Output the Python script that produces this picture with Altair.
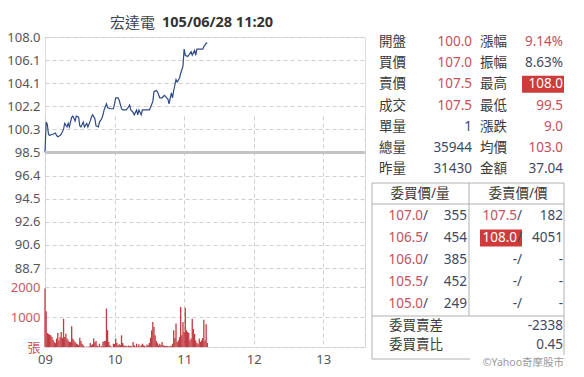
import altair as alt
import pandas as pd

# ---------------- data ----------------
title_name = "宏達電"
title_time = "105/06/28 11:20"

minutes = [0, 1, 2, 3, 4, 6, 7, 9, 10, 11, 13, 14, 16, 17, 19, 20, 21, 23, 24, 26,
           27, 29, 30, 31, 33, 34, 36, 37, 39, 40, 41, 43, 44, 46, 47, 49, 50, 51, 53, 54,
           56, 57, 59, 60, 61, 63, 64, 66, 67, 69, 70, 71, 73, 74, 76, 77, 79, 80, 81, 83,
           84, 86, 88, 90, 91, 93, 94, 96, 97, 99, 100, 101, 103, 104, 106, 107, 109, 110, 111, 113,
           114, 116, 117, 119, 120, 121, 123, 124, 126, 127, 129, 130, 131, 133, 134, 136, 137, 139, 140]
prices = [98.5, 101.0, 100.8, 100.0, 99.9, 100.0, 100.0, 100.1, 99.9, 99.8, 99.9, 100.0, 100.4, 100.9, 100.6, 100.9, 100.6, 101.4, 101.5, 101.1,
          101.5, 101.4, 100.7, 100.6, 101.0, 100.6, 100.9, 100.6, 101.1, 101.4, 101.6, 101.3, 100.7, 100.6, 101.0, 101.3, 101.6, 102.0, 102.5, 102.2,
          102.1, 102.1, 102.1, 102.5, 103.0, 103.0, 102.8, 102.1, 102.0, 102.0, 102.0, 102.1, 102.4, 102.0, 101.8, 101.6, 102.0, 101.6, 102.0, 101.6,
          102.0, 102.0, 102.0, 102.0, 102.2, 102.7, 103.5, 103.6, 103.5, 103.0, 103.0, 103.0, 103.2, 103.1, 102.9, 102.5, 103.4, 103.0, 103.6, 104.5,
          104.3, 104.6, 105.0, 105.6, 107.0, 106.5, 106.4, 106.5, 106.8, 106.5, 106.9, 106.5, 107.0, 107.0, 107.0, 107.0, 107.2, 107.5, 107.5]
ref_price = 98.5

volumes = [1950, 1190, 470, 440, 410, 390, 330, 240, 170, 130,
           280, 470, 220, 330, 500, 300, 940, 330, 440, 280,
           220, 170, 170, 690, 280, 220, 170, 120, 90, 60,
           310, 200, 110, 55, 20, 0, 20, 0, 20, 130,
           60, 90, 280, 150, 200, 55, 20, 110, 20, 30,
           170, 200, 200, 1280, 560, 170, 55, 20, 0, 110,
           100, 280, 130, 55, 90, 60, 390, 130, 55, 30,
           40, 20, 50, 30, 40, 20, 170, 55, 20, 110,
           20, 90, 20, 55, 110, 55, 40, 20, 80, 60,
           130, 310, 560, 830, 670, 390, 200, 130, 55, 110,
           60, 170, 55, 40, 30, 40, 30, 20, 40, 30,
           110, 560, 300, 780, 170, 220, 330, 1330, 390, 830,
           500, 1310, 560, 500, 470, 220, 280, 940, 600, 440,
           220, 130, 90, 280, 170, 220, 300, 910, 220, 760,
           130]

price_tick_labels = ["108.0", "106.1", "104.1", "102.2", "100.3", "98.5",
                     "96.4", "94.5", "92.6", "90.6", "88.7"]
vol_ticks = [0, 1000, 2000]
hour_ticks = [9, 10, 11, 12, 13]

stat_labels_l = ["開盤", "買價", "賣價", "成交", "單量", "總量", "昨量"]
stat_values_l = ["100.0", "107.0", "107.5", "107.5", "1", "35944", "31430"]
stat_kind_l = ["up", "up", "up", "up", "n", "n", "n"]
stat_labels_r = ["漲幅", "振幅", "最高", "最低", "漲跌", "均價", "金額"]
stat_values_r = ["9.14%", "8.63%", "108.0", "99.5", "9.0", "103.0", "37.04"]
stat_kind_r = ["up", "n", "hi", "up", "up", "up", "n"]

book_headers = ["委買價/量", "委賣價/價"]
buy_prices = ["107.0", "106.5", "106.0", "105.5", "105.0"]
buy_qty = ["355", "454", "385", "452", "249"]
sell_prices = ["107.5", "108.0", "-", "-", "-"]
sell_qty = ["182", "4051", "-", "-", "-"]
sell_kind = ["up", "hi", "n", "n", "n"]

summary_labels = ["委買賣差", "委買賣比"]
summary_values = ["-2338", "0.45"]
watermark = "©Yahoo奇摩股市"

# ---------------- style ----------------
FONT = "Noto Sans, Noto Sans CJK TC, sans-serif"
RED_TXT = "#c4505a"
BLUE_TXT = "#3e4a66"
LABEL_TXT = "#3a3a3a"
GRID = "#cfcfcf"
BOX_RED = "#cf3a3a"
BAR_RED = "#c23b42"
LINE = "#2e4a86"
BASE = "#c4c4c4"
FRAME = "#b0b0b0"
AXIS_LABEL = "#555555"
VOL_LABEL = "#c45a60"
FS = 13.5

W, H = 320, 310

price_df = pd.DataFrame({"hour": [9 + m / 60 for m in minutes], "price": prices})
vol_df = pd.DataFrame({"hour": [9 + m / 60 for m in range(len(volumes))], "vol": volumes})
ref_df = pd.DataFrame({"ref": [ref_price]})
one = pd.DataFrame({"d": [0]})

price_tick_pos = [round(ref_price + 1.9 * k, 1) for k in range(5, -6, -1)]
price_label_expr = "%s[indexof(%s, round(datum.value*10)/10)]" % (
    "[" + ",".join("'%s'" % s for s in price_tick_labels) + "]",
    "[" + ",".join(repr(v) for v in price_tick_pos) + "]")

x_scale = alt.Scale(domain=[9, 13.6], range=[0, W], nice=False, zero=False)
price_scale = alt.Scale(domain=[price_tick_pos[-1], price_tick_pos[0]], range=[231, 0], nice=False, zero=False)
vol_scale = alt.Scale(domain=[0, 2000], range=[310, 250], nice=False, zero=False)

common_axis = dict(grid=True, gridDash=[4, 3], gridColor=GRID, domain=False, ticks=False,
                   labelFontSize=13, labelFont=FONT, title=None, labelOverlap=False)

x_axis = alt.Axis(values=hour_ticks + [13.6], format="02d",
                  labelExpr="datum.value > 13.5 ? '' : datum.label",
                  labelColor=AXIS_LABEL, labelPadding=6, labelFlush=False, **common_axis)
price_axis = alt.Axis(values=price_tick_pos, labelExpr=price_label_expr, orient="left",
                      labelColor=AXIS_LABEL, labelPadding=5, **common_axis)
vol_axis = alt.Axis(values=vol_ticks, format="d", orient="left",
                    labelExpr="datum.value == 0 ? '張' : datum.label",
                    labelColor=VOL_LABEL, labelPadding=5, **common_axis)

line = alt.Chart(price_df).mark_line(color=LINE, strokeWidth=1.2).encode(
    x=alt.X("hour:Q", scale=x_scale, axis=x_axis),
    y=alt.Y("price:Q", scale=price_scale, axis=price_axis),
)
base = alt.Chart(ref_df).mark_rule(color=BASE, strokeWidth=3).encode(
    y=alt.Y("ref:Q", scale=price_scale, axis=None)
)
bars = alt.Chart(vol_df).mark_rule(color=BAR_RED, strokeWidth=1.3).encode(
    x=alt.X("hour:Q", scale=x_scale, axis=None),
    y=alt.Y("vol:Q", scale=vol_scale, axis=vol_axis),
    y2=alt.datum(0),
)

title1 = alt.Chart(one).mark_text(text=title_name, align="left", baseline="middle", fontSize=15,
                                  font=FONT, color="#3c4656").encode(x=alt.value(65), y=alt.value(-14))
title2 = alt.Chart(one).mark_text(text=title_time, align="left", baseline="middle", fontSize=14.5,
                                  font=FONT, fontWeight="bold", color="#333333").encode(x=alt.value(117), y=alt.value(-14))

kind_scale = alt.Scale(domain=["up", "n", "hi"], range=[RED_TXT, BLUE_TXT, "#ffffff"])

# stats block
stats = pd.DataFrame({"row": list(range(len(stat_labels_l))),
                      "l1": stat_labels_l, "v1": stat_values_l, "k1": stat_kind_l,
                      "l2": stat_labels_r, "v2": stat_values_r, "k2": stat_kind_r})
sy = alt.Y("row:Q", scale=alt.Scale(domain=[0, 6], range=[5, 132], nice=False, zero=False), axis=None)
txt = dict(baseline="middle", fontSize=FS, font=FONT)
s_l1 = alt.Chart(stats).mark_text(align="left", color=LABEL_TXT, **txt).encode(x=alt.value(334), y=sy, text="l1:N")
s_v1 = alt.Chart(stats).mark_text(align="right", **txt).encode(
    x=alt.value(427), y=sy, text="v1:N", color=alt.Color("k1:N", scale=kind_scale, legend=None))
s_l2 = alt.Chart(stats).mark_text(align="left", color=LABEL_TXT, **txt).encode(x=alt.value(435), y=sy, text="l2:N")
s_box = alt.Chart(stats).transform_filter("datum.k2 == 'hi'").mark_rule(color=BOX_RED, strokeWidth=17).encode(
    x=alt.value(477), x2=alt.value(519), y=sy)
s_v2 = alt.Chart(stats).mark_text(align="right", **txt).encode(
    x=alt.value(518), y=sy, text="v2:N", color=alt.Color("k2:N", scale=kind_scale, legend=None))

# order book
hdr = pd.DataFrame({"row": [0, 0], "h": book_headers, "col": ["buy", "sell"]})
book = pd.DataFrame({"row": list(range(1, len(buy_prices) + 1)), "bp": buy_prices, "bq": buy_qty,
                     "sp": sell_prices, "sq": sell_qty, "sk": sell_kind})
by = alt.Y("row:Q", scale=alt.Scale(domain=[0, 5], range=[157, 267], nice=False, zero=False), axis=None)
h1 = alt.Chart(hdr).transform_filter("datum.col == 'buy'").mark_text(align="center", color=LABEL_TXT, **txt).encode(
    x=alt.value(375), y=by, text="h:N")
h2 = alt.Chart(hdr).transform_filter("datum.col == 'sell'").mark_text(align="center", color=LABEL_TXT, **txt).encode(
    x=alt.value(473), y=by, text="h:N")
b_p = alt.Chart(book).mark_text(align="right", color=RED_TXT, **txt).encode(x=alt.value(378), y=by, text="bp:N")
b_s = alt.Chart(book).mark_text(align="left", color=BLUE_TXT, text="/", **txt).encode(x=alt.value(378), y=by)
b_q = alt.Chart(book).mark_text(align="right", color=BLUE_TXT, **txt).encode(x=alt.value(422), y=by, text="bq:N")
s_bx = alt.Chart(book).transform_filter("datum.sk == 'hi'").mark_rule(color=BOX_RED, strokeWidth=17).encode(
    x=alt.value(435), x2=alt.value(477), y=by)
s_p = alt.Chart(book).mark_text(align="right", **txt).encode(
    x=alt.value(472), y=by, text="sp:N", color=alt.Color("sk:N", scale=kind_scale, legend=None))
s_s = alt.Chart(book).mark_text(align="left", color=BLUE_TXT, text="/", **txt).encode(x=alt.value(472), y=by)
s_q = alt.Chart(book).mark_text(align="right", color=BLUE_TXT, **txt).encode(x=alt.value(518), y=by, text="sq:N")

summ = pd.DataFrame({"row": [0, 1], "l": summary_labels, "v": summary_values})
uy = alt.Y("row:Q", scale=alt.Scale(domain=[0, 1], range=[289, 308], nice=False, zero=False), axis=None)
u_l = alt.Chart(summ).mark_text(align="left", color=LABEL_TXT, **txt).encode(x=alt.value(344), y=uy, text="l:N")
u_v = alt.Chart(summ).mark_text(align="right", color=BLUE_TXT, **txt).encode(x=alt.value(518), y=uy, text="v:N")

wm = alt.Chart(one).mark_text(text=watermark, align="right", baseline="middle", fontSize=10.5,
                              font=FONT, color="#9a9a9a").encode(x=alt.value(519), y=alt.value(326))

def frame(x, x2, y, y2):
    return alt.Chart(one).mark_rule(color=FRAME, strokeWidth=1).encode(
        x=alt.value(x), x2=alt.value(x2), y=alt.value(y), y2=alt.value(y2))

frames = [
    frame(327, 519, 146, 146),
    frame(327, 519, 167, 167),
    frame(327, 519, 279, 279),
    frame(327, 425, 322, 322),
    frame(327, 327, 146, 322),
    frame(519, 519, 146, 318),
    frame(424, 424, 146, 279),
]

chart = alt.layer(
    line, base, bars, title1, title2,
    s_l1, s_v1, s_l2, s_box, s_v2,
    *frames,
    h1, h2, b_p, b_s, b_q, s_bx, s_p, s_s, s_q,
    u_l, u_v, wm,
).resolve_scale(x="independent", y="independent").properties(
    width=W, height=H,
    autosize=alt.AutoSizeParams(type="none"),
    padding={"left": 37, "top": 29, "right": 211, "bottom": 22},
).configure_view(stroke=None).configure(background="white")

chart.save("out.html", embed_options={"renderer": "svg", "actions": False})
